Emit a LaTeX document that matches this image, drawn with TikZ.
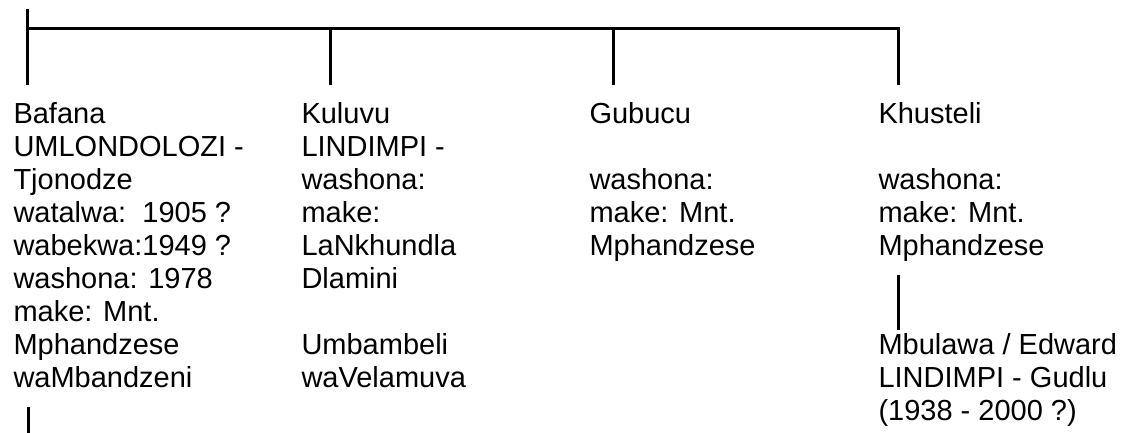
\documentclass[tikz,border=0pt]{standalone}
\usepackage{fontspec}
\setmainfont{Liberation Sans}

\begin{document}
\begin{tikzpicture}[x=1pt, y=-1pt, line width=3pt,
  every node/.style={anchor=north west, inner sep=0pt, align=left,
    font=\fontsize{29}{33}\selectfont, execute at begin node=\strut}]
\path[use as bounding box] (0,0) rectangle (1123,432);
% bracket over the four children
\coordinate (apex) at (27,9);
\coordinate (j1) at (27,28);
\coordinate (j2) at (330,28);
\coordinate (j3) at (613,28);
\coordinate (j4) at (898,28);
\coordinate (d1) at (27,85);
\coordinate (d2) at (330,85);
\coordinate (d3) at (613,85);
\coordinate (d4) at (898,85);
\draw (apex) -- (d1);
\draw (j1) -- (j4) -- (d4);
\draw (j2) -- (d2);
\draw (j3) -- (d3);
% children (first baseline at y=124)
\node (bafana) at (12,100.9) {Bafana\\UMLONDOLOZI -\\Tjonodze\\watalwa:\ \ 1905 ?\\wabekwa:1949 ?\\washona: 1978\\make: Mnt.\\Mphandzese\\waMbandzeni};
\node (kuluvu) at (300,100.9) {Kuluvu\\LINDIMPI -\\washona:\\make:\\LaNkhundla\\Dlamini\\[33pt]Umbambeli\\waVelamuva};
\node (gubucu) at (588,100.9) {Gubucu\\[33pt]washona:\\make: Mnt.\\Mphandzese};
\node (khusteli) at (877,100.9) {Khusteli\\[33pt]washona:\\make: Mnt.\\Mphandzese};
\node (mbulawa) at (877,331.9) {Mbulawa / Edward\\LINDIMPI - Gudlu\\(1938 - 2000 ?)};
% descent lines
\coordinate (k1) at (898,275);
\coordinate (k2) at (898,330);
\draw (k1) -- (k2);
\coordinate (b1) at (28,407);
\coordinate (b2) at (28,434);
\draw (b1) -- (b2);
\end{tikzpicture}
\end{document}
